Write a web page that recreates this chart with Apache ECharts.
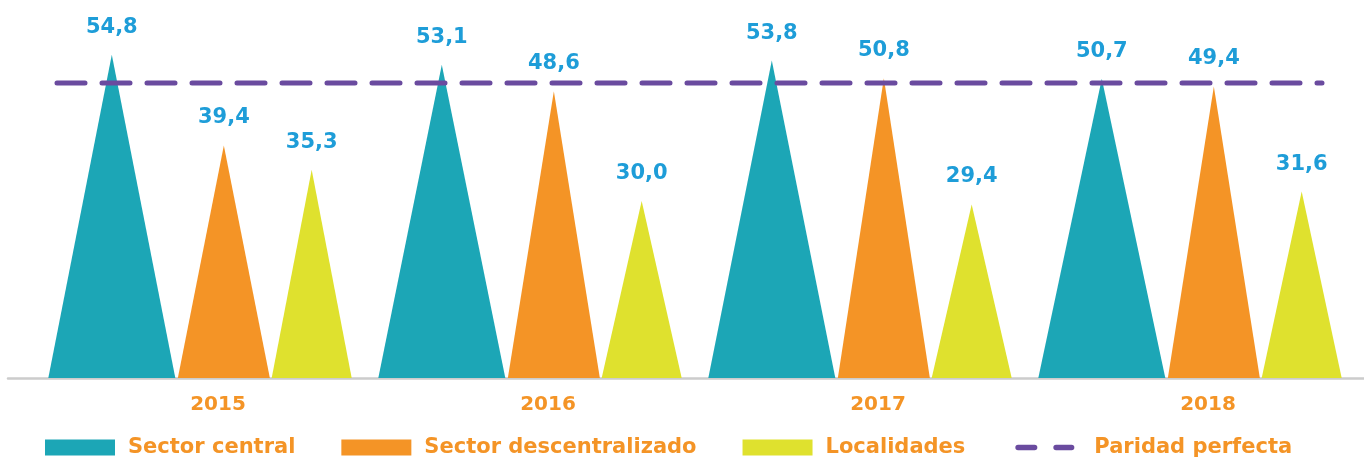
<!DOCTYPE html>
<html>
<head>
<meta charset="utf-8">
<script src="https://cdn.jsdelivr.net/npm/echarts@6/dist/echarts.min.js"></script>
<style>
html,body{margin:0;padding:0;background:#fff;}
#chart{width:1364px;height:458px;}
</style>
</head>
<body>
<div id="chart"></div>
<script>
const years = ['2015', '2016', '2017', '2018'];
const sectorCentral = [54.8, 53.1, 53.8, 50.7];
const sectorDescentralizado = [39.4, 48.6, 50.8, 49.4];
const localidades = [35.3, 30.0, 29.4, 31.6];
const paridadPerfecta = [50, 50, 50, 50];

const FONT = '"DejaVu Sans", sans-serif';
const C_TEAL = '#1ca6b6';
const C_ORANGE = '#f49426';
const C_YELLOW = '#dfe12e';
const C_PURPLE = '#6a4b9f';
const C_BLUE = '#1e9dd8';

const fmt = p => p.value.toFixed(1).replace('.', ',');

const valueLabel = {
  show: true, position: 'top', distance: 17,
  color: C_BLUE, fontFamily: FONT, fontWeight: 'bold', fontSize: 21,
  formatter: fmt
};

function tri(name, data, color, width) {
  return {
    type: 'pictorialBar', name: name, data: data,
    xAxisIndex: 0, yAxisIndex: 0,
    symbol: 'triangle', symbolSize: ['100%', '100%'],
    barWidth: width, barGap: '2%',
    itemStyle: { color: color },
    label: valueLabel,
    z: 3
  };
}

// legend icon: two rounded dashes inside a 70x16 box
const dashIcon = 'path://M0,0 M70,16 ' +
  'M6.75,5.25 L23.25,5.25 A2.75,2.75 0 0 1 23.25,10.75 L6.75,10.75 A2.75,2.75 0 0 1 6.75,5.25 Z ' +
  'M44.75,5.25 L60.25,5.25 A2.75,2.75 0 0 1 60.25,10.75 L44.75,10.75 A2.75,2.75 0 0 1 44.75,5.25 Z';

const chart = echarts.init(document.getElementById('chart'), null, { renderer: 'canvas' });
chart.setOption({
  backgroundColor: '#ffffff',
  animation: false,
  grid: [
    { left: 35, right: 9, top: 24, bottom: 80, containLabel: false, outerBoundsMode: 'none' },
    { left: 8, right: 0, top: 24, bottom: 80, containLabel: false, outerBoundsMode: 'none' },
    { left: 57, right: 42, top: 24, bottom: 80, containLabel: false, outerBoundsMode: 'none' }
  ],
  xAxis: [
    {
      type: 'category', gridIndex: 0, data: years,
      axisLine: { show: false }, axisTick: { show: false },
      axisLabel: {
        color: C_ORANGE, fontFamily: FONT, fontWeight: 'bold', fontSize: 20,
        margin: 17, padding: [0, 0, 0, 36]
      }
    },
    {
      type: 'category', gridIndex: 1, data: years,
      axisLine: { show: true, lineStyle: { color: '#cccccc', width: 2.5 } },
      axisTick: { show: false }, axisLabel: { show: false }
    },
    {
      type: 'category', gridIndex: 2, data: years, boundaryGap: false, show: false
    }
  ],
  yAxis: [
    { type: 'value', gridIndex: 0, min: 0, max: 60, show: false },
    { type: 'value', gridIndex: 1, min: 0, max: 60, show: false },
    { type: 'value', gridIndex: 2, min: 0, max: 60, show: false }
  ],
  legend: {
    left: 45, top: 437, padding: 0,
    itemWidth: 70, itemHeight: 16, itemGap: 46,
    textStyle: { color: C_ORANGE, fontFamily: FONT, fontWeight: 'bold', fontSize: 21, padding: [6, 0, 0, 8] },
    data: [
      { name: 'Sector central', icon: 'rect' },
      { name: 'Sector descentralizado', icon: 'rect' },
      { name: 'Localidades', icon: 'rect' },
      { name: 'Paridad perfecta', icon: dashIcon, itemStyle: { color: C_PURPLE, borderWidth: 0 } }
    ]
  },
  series: [
    tri('Sector central', sectorCentral, C_TEAL, 127),
    tri('Sector descentralizado', sectorDescentralizado, C_ORANGE, 92),
    tri('Localidades', localidades, C_YELLOW, 80),
    {
      type: 'line', name: 'Paridad perfecta', data: paridadPerfecta,
      xAxisIndex: 2, yAxisIndex: 2,
      symbol: 'none', showSymbol: false,
      lineStyle: { color: C_PURPLE, width: 5, type: [28, 17], cap: 'round' },
      itemStyle: { color: C_PURPLE },
      z: 5
    }
  ]
});
</script>
</body>
</html>
